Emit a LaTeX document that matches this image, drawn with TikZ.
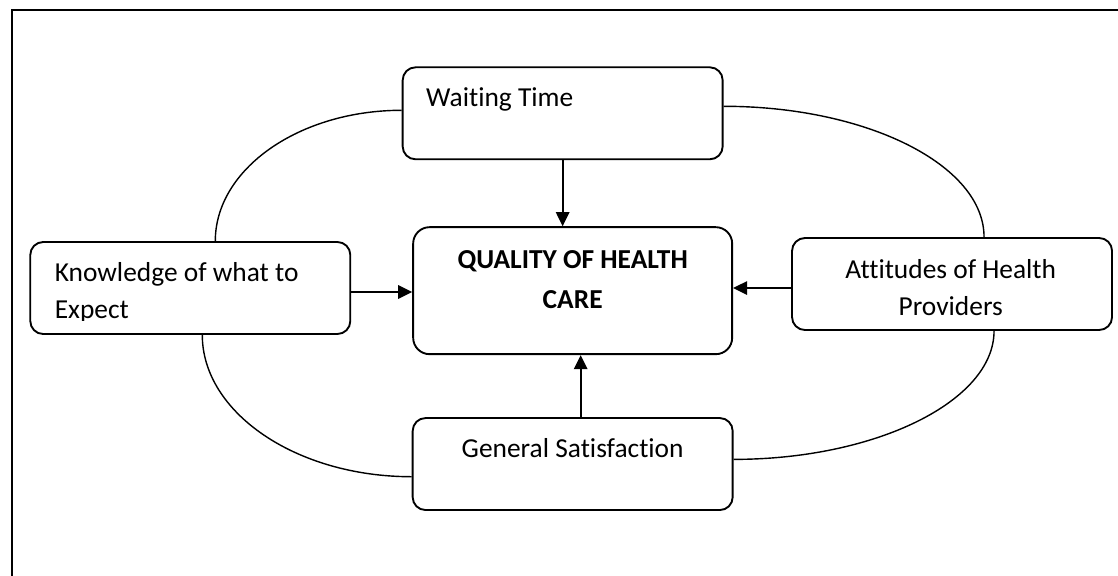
\documentclass[tikz,border=0pt]{standalone}
\usepackage{fontspec}
\setmainfont{Carlito}[Ligatures=NoCommon]
\usetikzlibrary{arrows.meta,positioning,calc}
\tikzset{
	factor/.style={
		rectangle,
		rounded corners=5.5pt,
		draw,
		thick,
		minimum width=4.8cm,
		minimum height=1.38cm,
		inner sep=0pt,
	},
	core/.style={
		factor,
		rounded corners=7pt,
		minimum width=4.785cm,
		minimum height=1.905cm,
	},
	caption/.style={
		inner sep=0pt,
		font=\fontsize{11.7}{15.8}\selectfont,
	},
	link/.style={
		-{Triangle[length=2.1mm,width=2mm]},
		thick,
	},
	ring/.style={
		semithick,
	},
}

\begin{document}
\begin{tikzpicture}[align=center]
	\useasboundingbox (0,0) rectangle (16.77,-8.625);
	% open frame, top and left only
	\draw[thick] (0.18,-8.7) -- (0.18,-0.15) -- (16.9,-0.15);

	\node[core] (qual) at (8.59,-4.36) {};
	\node[factor,above=0.99cm of qual,xshift=-0.15cm] (wait) {};
	\node[factor,left=0.915cm of qual,yshift=0.04cm]  (know) {};
	\node[factor,right=0.87cm of qual,yshift=0.1cm]   (att)  {};
	\node[factor,below=0.93cm of qual]                (gen)  {};

	% texts sit 0.21cm under the top edge
	\node[caption,anchor=north,font=\fontsize{11.7}{17}\selectfont\bfseries] (qual-t) at ([yshift=-0.21cm]qual.north)
		{\strut QUALITY OF HEALTH\\\strut CARE};
	\node[caption,anchor=north west,align=left] (wait-t) at ([shift={(0.36,-0.21)}]wait.north west)
		{\strut Waiting Time};
	\node[caption,anchor=north] (gen-t) at ([yshift=-0.21cm]gen.north)
		{\strut General Satisfaction};
	\begin{scope}
		\clip ([yshift=0.215cm]know.south west) rectangle (know.north east);
		\node[caption,anchor=north west,align=left] (know-t) at ([shift={(0.375,-0.21)}]know.north west)
			{\strut Knowledge of what to\\\strut Expect};
	\end{scope}
	\begin{scope}
		\clip ([yshift=0.2cm]att.south west) rectangle (att.north east);
		\node[caption,anchor=north] (att-t) at ([shift={(-0.02,-0.22)}]att.north)
			{\strut Attitudes of Health\\\strut Providers};
	\end{scope}

	\draw[link] (wait.south) -- (wait.south |- qual.north);
	\draw[link] ([yshift=-0.06cm]know.east) -- ([yshift=-0.06cm]know.east -| qual.west);
	\draw[link] ([yshift=-0.06cm]att.west) -- ([yshift=-0.06cm]att.west -| qual.east);
	\draw[link] ([xshift=0.12cm]gen.north) -- ([xshift=0.12cm]gen.north |- qual.south);

	\draw[ring] ([yshift=0.045cm]wait.west) .. controls +(-1.54,0) and +(0,1.08) .. ([xshift=0.375cm]know.north);
	\draw[ring] ([yshift=0.105cm]wait.east) .. controls +(2.15,0) and +(0,1.08) .. ([xshift=0.48cm]att.north);
	\draw[ring] ([xshift=0.18cm]know.south) .. controls +(0,-1.16) and +(-1.74,0) .. ([yshift=-0.19cm]gen.west);
	\draw[ring] ([xshift=0.63cm]att.south) .. controls +(0,-1.05) and +(2.14,0) .. ([yshift=0.07cm]gen.east);
\end{tikzpicture}
\end{document}
